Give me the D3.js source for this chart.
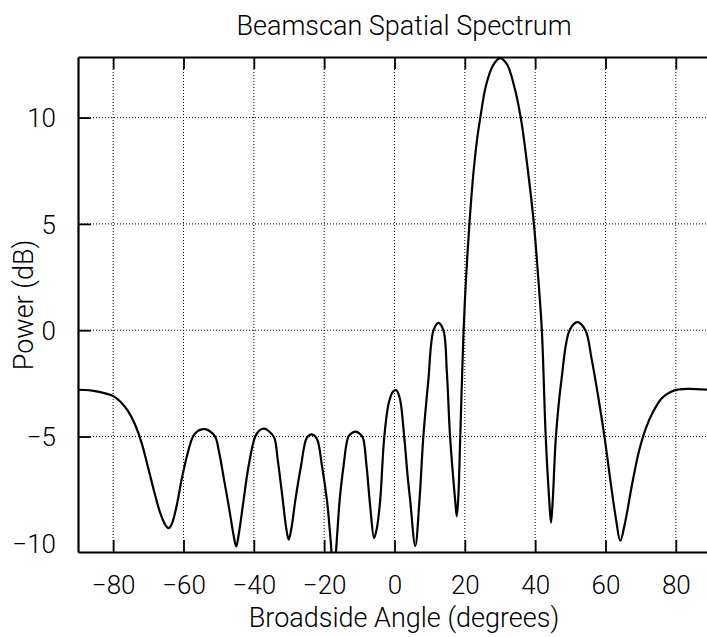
<!DOCTYPE html>
<html>
<head>
<meta charset="utf-8">
<script src="https://cdn.jsdelivr.net/npm/d3@7"></script>
<style>
  body { margin: 0; background: #fff; }
  svg { display: block; }
  svg text { font-family: Roboto, "Liberation Sans", Arial, sans-serif; font-weight: 300; fill: #000; }
  .grid line { stroke: #000; stroke-width: 1; stroke-dasharray: 1,2; }
</style>
</head>
<body>
<div id="chart"></div>
<script>
const w = 707;
const h = 637;

// broadside angle (degrees) and power (dB)
const angles = [-90, -88, -86, -84, -82, -80, -78, -76, -74, -72, -70, -68, -66.5, -65, -64.2, -63.3, -62, -60.5, -59, -57.3,
  -56, -54.8, -53.8, -52.5, -51, -49.8, -48.5, -47, -45.8, -45, -44.2, -43, -41.5, -39.6, -38.3, -37, -35.7, -34.2, -33.2, -31.9,
  -30.8, -30.1, -29.3, -28.2, -26.6, -24.9, -23.5, -22.1, -20.6, -19.2, -18.3, -17.25, -16.3, -15.6, -14.5, -13.1, -12, -11, -10, -9,
  -8, -6.9, -5.8, -5, -4.07, -2.9, -1.6, -0.4, 0.5, 1.5, 2.76, 3.7, 4.46, 5.9, 7.1, 8.2, 9.6, 11.1, 12.5, 13.9,
  14.9, 15.8, 17.25, 17.7, 18.1, 18.7, 19.6, 20.3, 21.3, 22.5, 23.5, 24.4, 26, 28, 30, 32, 34, 35.9, 37.8, 39.7,
  40.9, 41.9, 43, 44, 44.5, 45, 45.9, 47.5, 49.8, 52, 54.3, 56, 57.8, 59.7, 61.5, 63, 64.2, 65.5, 67.5, 69.5,
  71.5, 73.5, 76, 78.5, 81, 84, 87, 90];
const power = [-2.80, -2.81, -2.84, -2.90, -2.98, -3.10, -3.35, -3.75, -4.35, -5.25, -6.5, -7.8, -8.65, -9.2, -9.31, -9.1, -8.3, -7.0, -5.9, -5.0,
  -4.75, -4.66, -4.65, -4.75, -5.0, -5.8, -7.0, -8.4, -9.6, -10.17, -9.5, -8.1, -6.4, -5.0, -4.7, -4.63, -4.75, -5.05, -6.1, -7.8,
  -9.3, -9.85, -9.3, -8.0, -6.4, -5.05, -4.9, -5.1, -6.4, -8.0, -9.6, -11.5, -9.6, -8.0, -6.4, -5.0, -4.82, -4.77, -4.85, -5.05,
  -6.3, -8.3, -9.78, -9.3, -8.0, -5.0, -3.4, -2.88, -2.82, -3.2, -5.0, -6.8, -8.0, -10.15, -8.0, -5.0, -2.4, 0.0, 0.35, 0.0,
  -2.0, -5.0, -8.0, -8.75, -8.0, -5.0, -0.2, 2.3, 5.0, 7.5, 9.0, 10.0, 11.5, 12.45, 12.8, 12.5, 11.5, 10.0, 7.7, 4.9,
  2.4, 0.0, -5.0, -8.0, -9.05, -8.0, -5.0, -2.3, 0.0, 0.38, 0.0, -1.3, -3.0, -5.0, -7.2, -8.9, -9.9, -9.1, -7.3, -5.7,
  -4.6, -3.85, -3.2, -2.9, -2.78, -2.76, -2.78, -2.80];

const xTicks = [-80, -60, -40, -20, 0, 20, 40, 60, 80];
const yTicks = [-10, -5, 0, 5, 10];
const yGrid = [-5, 0, 5, 10];

const margin = {left: 78, top: 57, right: -4, bottom: 85};
const iw = w - margin.left - margin.right;
const ih = h - margin.top - margin.bottom;

const svg = d3.select("#chart").append("svg")
  .attr("width", w).attr("height", h);

const x = d3.scaleLinear().domain([-90, 90]).range([0, iw]);
const y = d3.scaleLinear().domain([-10.43, 12.85]).range([ih, 0]);

const g = svg.append("g").attr("transform", `translate(${margin.left},${margin.top})`);

g.append("clipPath").attr("id", "clip")
  .append("rect").attr("width", iw).attr("height", ih);

// dotted grid
const grid = g.append("g").attr("class", "grid");
grid.selectAll("line.vx").data(xTicks).enter().append("line")
  .attr("x1", d => x(d)).attr("x2", d => x(d)).attr("y1", 0).attr("y2", ih);
grid.selectAll("line.hy").data(yGrid).enter().append("line")
  .attr("x1", 0).attr("x2", iw).attr("y1", d => y(d)).attr("y2", d => y(d));

// spectrum line
const pts = angles.map((a, i) => [a, power[i]]);
const line = d3.line().x(d => x(d[0])).y(d => y(d[1])).curve(d3.curveCatmullRom.alpha(0.5));
g.append("path").datum(pts)
  .attr("clip-path", "url(#clip)")
  .attr("fill", "none").attr("stroke", "#000").attr("stroke-width", 2.2)
  .attr("stroke-linejoin", "round")
  .attr("d", line);

// axes, ticks pointing inward like MATLAB
const minus = d => String(d).replace("-", "\u2212");
const xAxis = g.append("g").attr("transform", `translate(0,${ih})`)
  .call(d3.axisBottom(x).tickValues(xTicks).tickSizeInner(-12).tickSizeOuter(0).tickPadding(24).tickFormat(minus));
const xTop = g.append("g")
  .call(d3.axisTop(x).tickValues(xTicks).tickSizeInner(-12).tickSizeOuter(0).tickFormat(""));
const yAxis = g.append("g")
  .call(d3.axisLeft(y).tickValues(yTicks).tickSizeInner(-13).tickSizeOuter(0).tickPadding(22).tickFormat(minus));
yAxis.selectAll(".tick").filter(d => d === -10).select("line").remove();

[xAxis, xTop, yAxis].forEach(a => {
  a.attr("font-family", null).attr("font-size", null);
  a.select(".domain").attr("stroke", "#000").attr("stroke-width", 2.2);
  a.selectAll(".tick line").attr("stroke", "#000").attr("stroke-width", 1.8);
  a.selectAll(".tick text").style("font-size", "26px");
});
yAxis.selectAll(".tick text").attr("dy", "0.36em");

// title and axis labels
svg.append("text").attr("x", 404).attr("y", 35).attr("text-anchor", "middle")
  .style("font-size", "27px").text("Beamscan Spatial Spectrum");
svg.append("text").attr("x", 404).attr("y", 627).attr("text-anchor", "middle")
  .style("font-size", "27px").text("Broadside Angle (degrees)");
svg.append("text").attr("transform", "translate(33,305) rotate(-90)").attr("text-anchor", "middle")
  .style("font-size", "27px").text("Power (dB)");
</script>
</body>
</html>
